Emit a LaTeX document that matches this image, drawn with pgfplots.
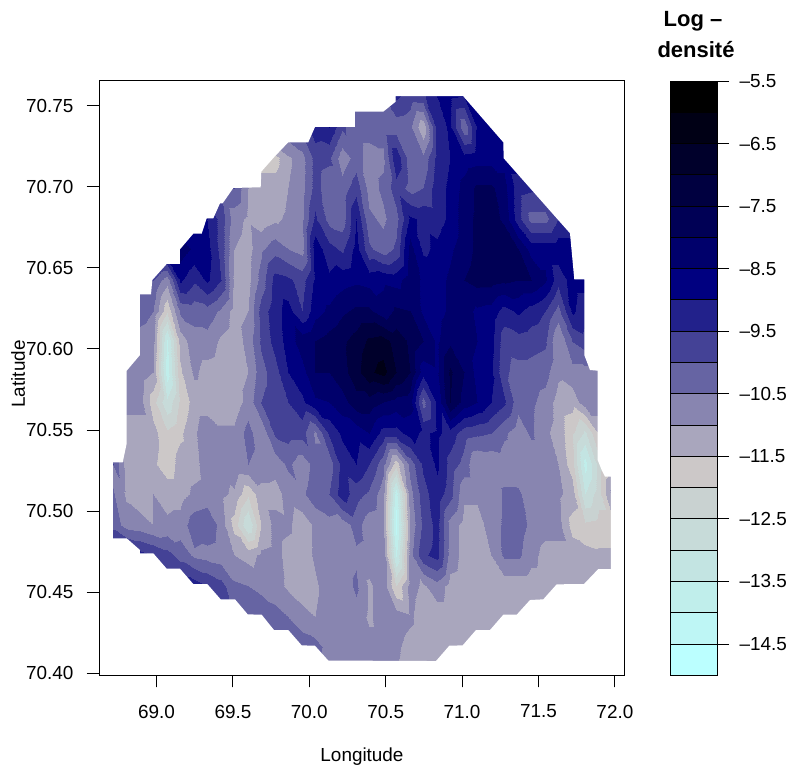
\documentclass[border=0pt]{standalone}
\usepackage{pgfplots}
\pgfplotsset{compat=1.18}
\usepackage{fontspec}
\setmainfont{Liberation Sans}
\pgfplotsset{
 colormap={dens}{
 rgb255(0)=(187,255,255) rgb255(99)=(187,255,255)
 rgb255(100)=(190,246,245) rgb255(199)=(190,246,245)
 rgb255(200)=(192,238,235) rgb255(299)=(192,238,235)
 rgb255(300)=(195,228,226) rgb255(399)=(195,228,226)
 rgb255(400)=(199,219,217) rgb255(499)=(199,219,217)
 rgb255(500)=(201,210,209) rgb255(599)=(201,210,209)
 rgb255(600)=(204,200,200) rgb255(699)=(204,200,200)
 rgb255(700)=(169,166,189) rgb255(799)=(169,166,189)
 rgb255(800)=(136,133,176) rgb255(899)=(136,133,176)
 rgb255(900)=(102,100,163) rgb255(999)=(102,100,163)
 rgb255(1000)=(68,66,150) rgb255(1099)=(68,66,150)
 rgb255(1100)=(34,33,139) rgb255(1199)=(34,33,139)
 rgb255(1200)=(0,0,128) rgb255(1299)=(0,0,128)
 rgb255(1300)=(0,0,107) rgb255(1399)=(0,0,107)
 rgb255(1400)=(0,0,85) rgb255(1499)=(0,0,85)
 rgb255(1500)=(0,0,64) rgb255(1599)=(0,0,64)
 rgb255(1600)=(0,0,43) rgb255(1699)=(0,0,43)
 rgb255(1700)=(0,0,21) rgb255(1799)=(0,0,21)
 rgb255(1800)=(0,0,0) rgb255(1900)=(0,0,0)
 }
}
\definecolor{c1}{RGB}{187,255,255}\definecolor{c2}{RGB}{190,246,245}\definecolor{c3}{RGB}{192,238,235}
\definecolor{c4}{RGB}{195,228,226}\definecolor{c5}{RGB}{199,219,217}\definecolor{c6}{RGB}{201,210,209}
\definecolor{c7}{RGB}{204,200,200}\definecolor{c8}{RGB}{169,166,189}\definecolor{c9}{RGB}{136,133,176}
\definecolor{c10}{RGB}{102,100,163}\definecolor{c11}{RGB}{68,66,150}\definecolor{c12}{RGB}{34,33,139}
\definecolor{c13}{RGB}{0,0,128}\definecolor{c14}{RGB}{0,0,107}\definecolor{c15}{RGB}{0,0,85}
\definecolor{c16}{RGB}{0,0,64}\definecolor{c17}{RGB}{0,0,43}\definecolor{c18}{RGB}{0,0,21}\definecolor{c19}{RGB}{0,0,0}
\newcommand{\tf}{\fontsize{18.9}{21}\selectfont}
\begin{document}
\begin{tikzpicture}[x=1pt,y=1pt]
\path[use as bounding box] (0,0) rectangle (794,-774);
\begin{axis}[
 name=map, anchor=south west, at={(99pt,-675.3pt)},
 width=525.5pt, height=594.3pt, scale only axis,
 xmin=68.6237, xmax=72.063, ymin=70.3986, ymax=70.7654,
 view={0}{90}, axis on top,
 axis line style={line width=1pt}, tick style={black,line width=1pt},
 tick align=outside, major tick length=12pt,
 xtick pos=bottom, ytick pos=left,
 xtick={69,69.5,70,70.5,71,71.5,72},
 ytick={70.40,70.45,70.50,70.55,70.60,70.65,70.70,70.75},
 xticklabel style={yshift=-14pt,/pgf/number format/.cd,fixed,fixed zerofill,precision=1,assume math mode=true},
 yticklabel style={xshift=-10pt,/pgf/number format/.cd,fixed,fixed zerofill,precision=2,1000 sep={},assume math mode=true},
 tick label style={font=\tf},
 scaled ticks=false,
 colormap name=dens, point meta min=-15, point meta max=-5.5,
]
\addplot3[surf, shader=interp, mesh/cols=38, point meta=z]
 table[row sep=\\, x expr={68.7134+0.08835*mod(\coordindex,38)}, y expr={70.7559-0.01889*floor(\coordindex/38)}, z=z]
{z\\
-10\\-10\\-10\\-10\\-10\\-10\\-10\\-10\\-10\\-10\\-10\\-10\\-10\\-10\\-10\\-10\\-10\\-10\\-10\\-10\\-10\\-9.4\\-9.7\\-9.6\\-9.0\\-8.9\\-9.0\\-9.0\\-8.8\\-8.8\\-8.8\\-8.8\\-8.8\\-8.8\\-8.8\\-8.8\\-8.8\\-8.8\\
-10\\-10\\-10\\-10\\-10\\-10\\-10\\-10\\-10\\-10\\-10\\-10\\-10\\-10\\-9.8\\-9.2\\-9.0\\-9.9\\-10.3\\-10.3\\-10.3\\-10.3\\-10.4\\-11.4\\-9.3\\-8.9\\-10.4\\-8.9\\-8.8\\-8.8\\-8.8\\-8.8\\-8.8\\-8.8\\-8.8\\-8.8\\-8.8\\-8.8\\
-11.7\\-11.7\\-11.7\\-11.7\\-11.7\\-11.7\\-11.7\\-11.7\\-11.7\\-11.7\\-11.7\\-11.7\\-11.7\\-11.1\\-10.7\\-9.8\\-9.9\\-10.8\\-10.3\\-10.7\\-10.6\\-9.1\\-10.3\\-10.4\\-9.3\\-9.0\\-8.8\\-8.7\\-8.7\\-8.7\\-8.7\\-8.7\\-8.7\\-8.7\\-8.7\\-8.7\\-8.7\\-8.7\\
-10\\-10\\-10\\-10\\-10\\-10\\-10\\-10\\-10\\-10\\-11.0\\-11.3\\-11.3\\-11.0\\-10.7\\-9.8\\-10.3\\-10.3\\-9.7\\-10.7\\-10.4\\-9.7\\-10.2\\-10.0\\-9.2\\-8.9\\-8.3\\-7.9\\-7.9\\-8.3\\-9.3\\-9.4\\-9.4\\-9.4\\-9.4\\-9.4\\-9.4\\-9.4\\
-9\\-9\\-9\\-9\\-9\\-9\\-9\\-9.0\\-9.7\\-10.8\\-11.1\\-11.3\\-11.1\\-10.9\\-10.6\\-9.4\\-10.2\\-10.3\\-9.0\\-10.4\\-10.6\\-10.2\\-8.9\\-9.1\\-9.2\\-8.9\\-8.2\\-7.9\\-7.8\\-8.1\\-9.3\\-10.2\\-10.2\\-9.5\\-9.5\\-9.5\\-9.5\\-9.5\\
-8.2\\-8.2\\-8.2\\-8.2\\-8.2\\-8.2\\-8.6\\-8.8\\-9.7\\-11.0\\-11.2\\-10.6\\-10.2\\-10.5\\-10.7\\-8.7\\-9.3\\-9.6\\-8.8\\-9.9\\-10.3\\-9.9\\-8.3\\-9.1\\-8.9\\-8.6\\-8.2\\-7.9\\-7.7\\-7.6\\-8.0\\-8.7\\-8.7\\-8.7\\-8.7\\-8.8\\-8.8\\-8.8\\
-10\\-10\\-10\\-10.0\\-10.8\\-8.9\\-9.4\\-8.9\\-9.5\\-11.1\\-11.2\\-10.3\\-9.3\\-9.4\\-9.7\\-8.9\\-8.9\\-8.7\\-8.6\\-8.7\\-8.6\\-8.7\\-8.2\\-8.6\\-8.7\\-8.4\\-8.0\\-7.8\\-7.8\\-7.9\\-8.0\\-8.0\\-8.4\\-9.3\\-8.8\\-8.8\\-8.8\\-8.8\\
-10.3\\-10.3\\-10.3\\-10.5\\-11.9\\-10.4\\-10.3\\-10.2\\-10.6\\-11.2\\-11.0\\-9.8\\-9.2\\-8.8\\-9.5\\-8.7\\-8.4\\-8.1\\-7.9\\-7.9\\-8.3\\-7.9\\-8.0\\-8.6\\-8.7\\-8.4\\-8.3\\-8.6\\-8.7\\-9.2\\-8.9\\-9.2\\-9.5\\-10.2\\-8.9\\-9.3\\-9.3\\-9.3\\
-10.7\\-10.7\\-10.7\\-10.8\\-13.6\\-11.3\\-10.7\\-10.7\\-11.1\\-11.3\\-10.8\\-9.9\\-9.3\\-8.8\\-8.2\\-8.0\\-7.8\\-7.6\\-7.3\\-6.9\\-6.8\\-7.2\\-7.6\\-8.0\\-8.6\\-8.1\\-8.2\\-8.5\\-8.8\\-9.8\\-9.7\\-9.8\\-9.9\\-11.0\\-10\\-9.7\\-9.7\\-9.7\\
-10.7\\-10.7\\-10.7\\-11.0\\-13.8\\-11.6\\-10.9\\-11.2\\-11.3\\-11.3\\-11.0\\-10.2\\-9.7\\-9.0\\-8.7\\-8.0\\-8.0\\-7.7\\-7.2\\-6.6\\-6.3\\-7.0\\-7.5\\-8.8\\-8.6\\-7.4\\-8.0\\-8.7\\-8.9\\-9.9\\-10.2\\-10.2\\-10.3\\-10.9\\-10.7\\-10.7\\-10.7\\-10.7\\
-10.8\\-10.8\\-10.8\\-11.8\\-12.9\\-11.9\\-11.3\\-11.3\\-11.3\\-11.3\\-10.8\\-10.0\\-9.7\\-9.5\\-9.1\\-8.6\\-8.5\\-8.2\\-7.7\\-7.7\\-8.0\\-8.2\\-8.3\\-10.2\\-8.9\\-7.5\\-8.2\\-8.5\\-9.0\\-9.4\\-10.3\\-10.4\\-10.7\\-11.2\\-11.3\\-10.7\\-10.7\\-10.7\\
-11.3\\-11.3\\-11.3\\-11.3\\-11.9\\-11.6\\-11.1\\-10.6\\-10.9\\-10.9\\-10.3\\-10.9\\-9.9\\-9.8\\-9.8\\-10.6\\-9.4\\-8.9\\-8.8\\-8.5\\-9.2\\-9.2\\-8.8\\-9.1\\-8.9\\-9.2\\-9.8\\-9.9\\-10.0\\-10.4\\-10.8\\-10.4\\-10.9\\-11.2\\-11.9\\-12.6\\-11.4\\-11.4\\
-10.0\\-11.2\\-11.2\\-11.4\\-11.8\\-11.3\\-11.2\\-10.7\\-10.8\\-10.6\\-10.5\\-10.7\\-10.8\\-10.4\\-10.8\\-10.3\\-10.3\\-9.3\\-9.0\\-9.5\\-10.3\\-11.8\\-10.3\\-9.4\\-8.9\\-9.7\\-10.2\\-11.0\\-10.9\\-10.8\\-10.9\\-10.9\\-10.9\\-11.0\\-11.8\\-13.7\\-12.2\\-11.7\\
-10.7\\-11.1\\-11.3\\-11.0\\-11.2\\-11.2\\-10.9\\-10.8\\-10.9\\-11.1\\-11.9\\-11.2\\-11.2\\-10.8\\-10.6\\-10.2\\-10.0\\-9.2\\-9.8\\-10.1\\-10.8\\-13.8\\-10.7\\-9.7\\-9.2\\-9.8\\-10.9\\-10.9\\-10.9\\-10.4\\-10.4\\-10.8\\-10.8\\-10.9\\-11.2\\-13.0\\-12.2\\-10.8\\
-10.2\\-10.7\\-10.8\\-11.0\\-10.9\\-10.8\\-10.2\\-10.1\\-10.7\\-11.7\\-13.0\\-11.5\\-10.8\\-10.9\\-11.3\\-10.9\\-10.7\\-10.8\\-10.3\\-10.8\\-10.9\\-14.2\\-10.9\\-9.9\\-9.3\\-10.7\\-11.2\\-11.2\\-10.8\\-10.4\\-10.3\\-10.6\\-10.8\\-10.8\\-11.7\\-11.9\\-11.8\\-11.8\\
-8.8\\-9.0\\-9.3\\-9.5\\-9.8\\-10.2\\-10.6\\-10.7\\-10.8\\-11.0\\-11.2\\-10.9\\-10.8\\-11.2\\-11.3\\-10.9\\-10.7\\-10.8\\-10.6\\-10.7\\-10.6\\-13.6\\-10.7\\-9.6\\-9.3\\-10.7\\-11.2\\-11.2\\-11.0\\-10.4\\-10.4\\-10.8\\-11.2\\-11.2\\-11.2\\-11.3\\-11.4\\-11.4\\
-9.2\\-9.2\\-9.2\\-9.2\\-9.2\\-9.2\\-9.2\\-9.5\\-9.8\\-10.4\\-10.5\\-10.7\\-10.8\\-11.1\\-11.3\\-11.1\\-10.7\\-10.8\\-10.4\\-11.1\\-10.7\\-12.0\\-10.8\\-11.1\\-10.7\\-11.2\\-11.3\\-11.3\\-11.3\\-11.3\\-11.3\\-11.3\\-11.3\\-11.3\\-11.3\\-11.3\\-11.3\\-11.3\\
-10\\-10\\-10\\-10\\-10\\-10\\-10\\-10\\-10\\-10\\-10\\-10.0\\-10.3\\-10.5\\-10.8\\-11.0\\-10.7\\-10.7\\-10.7\\-11.1\\-10.7\\-10.7\\-10.9\\-11.3\\-11.3\\-11.3\\-11.3\\-11.3\\-11.3\\-11.3\\-11.3\\-11.3\\-11.3\\-11.3\\-11.3\\-11.3\\-11.3\\-11.3\\
-10.2\\-10.2\\-10.2\\-10.2\\-10.2\\-10.2\\-10.2\\-10.2\\-10.2\\-10.2\\-10.2\\-10.2\\-10.2\\-10.2\\-10.2\\-10.3\\-10.7\\-10.8\\-10.8\\-10.8\\-10.8\\-10.9\\-11.2\\-11.3\\-11.3\\-11.3\\-11.3\\-11.3\\-11.3\\-11.3\\-11.3\\-11.3\\-11.3\\-11.3\\-11.3\\-11.3\\-11.3\\-11.3\\
-10.6\\-10.6\\-10.6\\-10.6\\-10.6\\-10.6\\-10.6\\-10.6\\-10.6\\-10.6\\-10.6\\-10.6\\-10.6\\-10.6\\-10.6\\-10.6\\-10.8\\-10.8\\-10.8\\-10.8\\-10.9\\-11.0\\-11.3\\-11.3\\-11.3\\-11.3\\-11.3\\-11.3\\-11.3\\-11.3\\-11.3\\-11.3\\-11.3\\-11.3\\-11.3\\-11.3\\-11.3\\-11.3\\
};
\addplot[draw=none, fill=white, even odd rule, forget plot]
 table[x expr={69+(\thisrowno{0}-156.5)/152.8}, y expr={70.40+(673-\thisrowno{1})/1620}]{
99 81
624.5 81
624.5 675.3
99 675.3
99 81
152.3 280
166.7 264
180 264
180 249.3
193.3 233.7
201.7 233.7
206.7 218.3
213.3 218.3
220 203.3
222.7 203.3
233.3 188
260.7 187.3
261.3 171.7
274 157.3
288.3 142.3
308.3 142.3
315 127
355 127
355 111.7
383.3 111.7
395.7 101.7
395.7 96.3
463.3 96.3
503.3 142.3
503.7 158.3
556.7 218.3
570 233.3
574.3 279.3
584.3 279.3
584.3 355
590 370
597.7 370.7
597.7 460
601.7 470
605 476.7
611 476.7
611 569
598.3 569
584 584
556.7 584.3
543.3 599.3
530 600
516.7 614.7
503.3 614.7
490 630
476 630
462.7 645.3
449.3 645.7
436 661
328.3 660.5
315 645.7
301.7 645.3
288.3 630
274 630
261.7 614.7
247.7 614.3
235 599.3
220.7 599.3
207.3 584
193.3 584
180 568.7
166.7 568.7
153.3 553.3
140 553.3
140 550
126.7 538.3
112.7 538.3
112.7 462.3
122.7 462.3
126.7 443.3
126.7 370.7
140 355
140 294.3
151 294.3
152.3 280
99 81
};
\end{axis}
\begin{axis}[
 name=bar, anchor=south west, at={(670.5pt,-675.3pt)},
 width=46.5pt, height=594.3pt, scale only axis,
 xmin=0, xmax=1, ymin=-15, ymax=-5.5,
 axis on top, axis line style={line width=1pt},
 xtick=\empty, ytick pos=right, tick align=outside, major tick length=12pt,
 tick style={black,line width=1pt},
 ytick={-14.5,-13.5,-12.5,-11.5,-10.5,-9.5,-8.5,-7.5,-6.5,-5.5},
 yticklabels={--14.5,--13.5,--12.5,--11.5,--10.5,--9.5,--8.5,--7.5,--6.5,--5.5},
 tick label style={font=\tf},
 yticklabel style={xshift=7pt},
]
\addplot[fill=c1,draw=black,line width=1pt] coordinates {(0,-15)(1,-15)(1,-14.5)(0,-14.5)} --cycle;
\addplot[fill=c2,draw=black,line width=1pt] coordinates {(0,-14.5)(1,-14.5)(1,-14)(0,-14)} --cycle;
\addplot[fill=c3,draw=black,line width=1pt] coordinates {(0,-14)(1,-14)(1,-13.5)(0,-13.5)} --cycle;
\addplot[fill=c4,draw=black,line width=1pt] coordinates {(0,-13.5)(1,-13.5)(1,-13)(0,-13)} --cycle;
\addplot[fill=c5,draw=black,line width=1pt] coordinates {(0,-13)(1,-13)(1,-12.5)(0,-12.5)} --cycle;
\addplot[fill=c6,draw=black,line width=1pt] coordinates {(0,-12.5)(1,-12.5)(1,-12)(0,-12)} --cycle;
\addplot[fill=c7,draw=black,line width=1pt] coordinates {(0,-12)(1,-12)(1,-11.5)(0,-11.5)} --cycle;
\addplot[fill=c8,draw=black,line width=1pt] coordinates {(0,-11.5)(1,-11.5)(1,-11)(0,-11)} --cycle;
\addplot[fill=c9,draw=black,line width=1pt] coordinates {(0,-11)(1,-11)(1,-10.5)(0,-10.5)} --cycle;
\addplot[fill=c10,draw=black,line width=1pt] coordinates {(0,-10.5)(1,-10.5)(1,-10)(0,-10)} --cycle;
\addplot[fill=c11,draw=black,line width=1pt] coordinates {(0,-10)(1,-10)(1,-9.5)(0,-9.5)} --cycle;
\addplot[fill=c12,draw=black,line width=1pt] coordinates {(0,-9.5)(1,-9.5)(1,-9)(0,-9)} --cycle;
\addplot[fill=c13,draw=black,line width=1pt] coordinates {(0,-9)(1,-9)(1,-8.5)(0,-8.5)} --cycle;
\addplot[fill=c14,draw=black,line width=1pt] coordinates {(0,-8.5)(1,-8.5)(1,-8)(0,-8)} --cycle;
\addplot[fill=c15,draw=black,line width=1pt] coordinates {(0,-8)(1,-8)(1,-7.5)(0,-7.5)} --cycle;
\addplot[fill=c16,draw=black,line width=1pt] coordinates {(0,-7.5)(1,-7.5)(1,-7)(0,-7)} --cycle;
\addplot[fill=c17,draw=black,line width=1pt] coordinates {(0,-7)(1,-7)(1,-6.5)(0,-6.5)} --cycle;
\addplot[fill=c18,draw=black,line width=1pt] coordinates {(0,-6.5)(1,-6.5)(1,-6)(0,-6)} --cycle;
\addplot[fill=c19,draw=black,line width=1pt] coordinates {(0,-6)(1,-6)(1,-5.5)(0,-5.5)} --cycle;
\end{axis}
\node[font=\tf] at (362,-757) {Longitude};
\node[font=\tf,rotate=90] at (18,-374) {Latitude};
\node[font=\fontsize{22}{24}\selectfont\bfseries] at (693,-21) {Log --};
\node[font=\fontsize{22}{24}\selectfont\bfseries] at (696,-50) {densité};
\end{tikzpicture}
\end{document}
